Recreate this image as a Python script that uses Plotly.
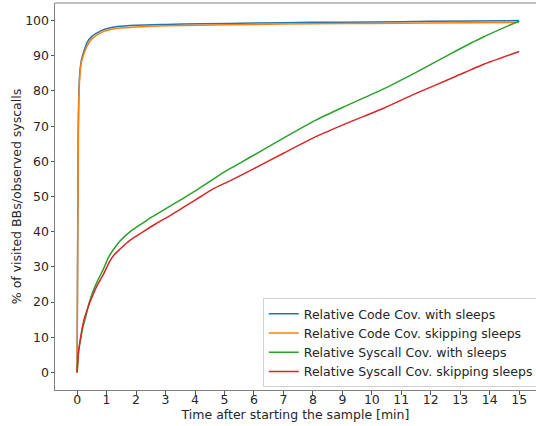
import plotly.graph_objects as go

# Relative code coverage with sleeps (blue)
code_with_x = [0, 0.02, 0.04, 0.06, 0.1, 0.15, 0.22, 0.34, 0.5, 0.79, 1.0, 1.36, 2.0, 3.0, 4.2, 6.0, 8.0, 10.0, 12.0, 15.0]
code_with_y = [0, 40, 70, 80, 86, 89, 91, 93.8, 95.5, 97.0, 97.7, 98.3, 98.7, 98.9, 99.1, 99.3, 99.5, 99.6, 99.8, 100]

# Relative code coverage skipping sleeps (orange)
code_skip_x = [0, 0.02, 0.04, 0.06, 0.1, 0.15, 0.22, 0.34, 0.5, 0.79, 1.0, 1.36, 2.0, 3.0, 4.2, 6.0, 8.0, 10.0, 12.0, 15.0]
code_skip_y = [0, 35, 65, 78, 85, 88.3, 90.3, 92.8, 94.8, 96.5, 97.2, 97.8, 98.2, 98.5, 98.7, 98.9, 99.1, 99.2, 99.3, 99.5]

# Relative syscall coverage with sleeps (green)
sys_with_x = [0, 0.05, 0.11, 0.2, 0.3, 0.4, 0.56, 0.75, 0.9, 1.05, 1.24, 1.45, 1.8, 2.2, 2.5, 3.0, 3.5, 4.0, 4.6, 5.0, 5.9, 7.0, 8.1, 9.0, 10.4, 11.5, 12.7, 13.8, 15.0]
sys_with_y = [0, 6, 9, 13, 16, 19.5, 23.5, 27, 29.5, 32.5, 35, 37.3, 40, 42.3, 44, 46.5, 49, 51.5, 54.8, 57, 61.3, 66.6, 71.7, 75.3, 80.6, 85.3, 90.7, 95.4, 99.9]

# Relative syscall coverage skipping sleeps (red)
sys_skip_x = [0, 0.05, 0.1, 0.22, 0.35, 0.51, 0.7, 0.9, 1.1, 1.25, 1.45, 1.8, 2.3, 2.7, 3.2, 3.7, 4.2, 4.6, 5.2, 5.9, 7.0, 8.1, 9.2, 10.4, 11.5, 12.7, 13.8, 15.0]
sys_skip_y = [0, 6, 9, 14.5, 18, 21.5, 25, 28, 31.5, 33.4, 35, 37.6, 40.3, 42.4, 44.8, 47.4, 50, 52.1, 54.5, 57.5, 62.3, 67, 71, 75.1, 79.3, 83.6, 87.6, 91.2]

names = ["Relative Code Cov. with sleeps", "Relative Code Cov. skipping sleeps",
         "Relative Syscall Cov. with sleeps", "Relative Syscall Cov. skipping sleeps"]
colors = ["#1f77b4", "#ff7f0e", "#2ca02c", "#d62728"]
xs = [code_with_x, code_skip_x, sys_with_x, sys_skip_x]
ys = [code_with_y, code_skip_y, sys_with_y, sys_skip_y]

x_ticks = list(range(0, 16))
y_ticks = list(range(0, 101, 10))

fig = go.Figure()
for n, c, x, y in zip(names, colors, xs, ys):
    fig.add_trace(go.Scatter(x=x, y=y, mode="lines", name=n,
                             line=dict(color=c, width=1.5, shape="spline", smoothing=0.5)))

font = "DejaVu Sans"
fs = 12.5
fig.update_layout(
    width=536, height=426,
    margin=dict(l=54.6, r=0, t=3, b=36, autoexpand=False),
    paper_bgcolor="white", plot_bgcolor="white",
    font=dict(family=font, size=fs, color="#262626"),
    showlegend=True,
    legend=dict(x=0.432, y=0.2377, xanchor="left", yanchor="top",
                bordercolor="#d0d0d0", borderwidth=1, bgcolor="rgba(255,255,255,0.8)",
                font=dict(size=fs, family=font), itemwidth=30, tracegroupgap=0),
    xaxis=dict(range=[-0.75, 15.57], tickvals=x_ticks, ticktext=[str(v) for v in x_ticks],
               showgrid=False, zeroline=False, showline=True, linecolor="#808080", linewidth=1,
               ticks="outside", ticklen=3.5, tickcolor="#555555", ticklabelstandoff=-6,
               automargin=False,
               title=dict(text="Time after starting the sample [min]", font=dict(size=fs), standoff=2)),
    yaxis=dict(range=[-5, 105], tickvals=y_ticks, ticktext=[str(v) for v in y_ticks],
               showgrid=False, zeroline=False, showline=True, linecolor="#808080", linewidth=1,
               ticks="outside", ticklen=3.5, tickcolor="#555555", ticklabelstandoff=-1,
               automargin=False,
               title=dict(text="% of visited BBs/observed syscalls", font=dict(size=fs), standoff=0)),
    shapes=[dict(type="line", xref="paper", yref="paper", x0=0, x1=1, y0=1, y1=1,
                 line=dict(color="#808080", width=1))],
)

fig.write_html("out.html")
